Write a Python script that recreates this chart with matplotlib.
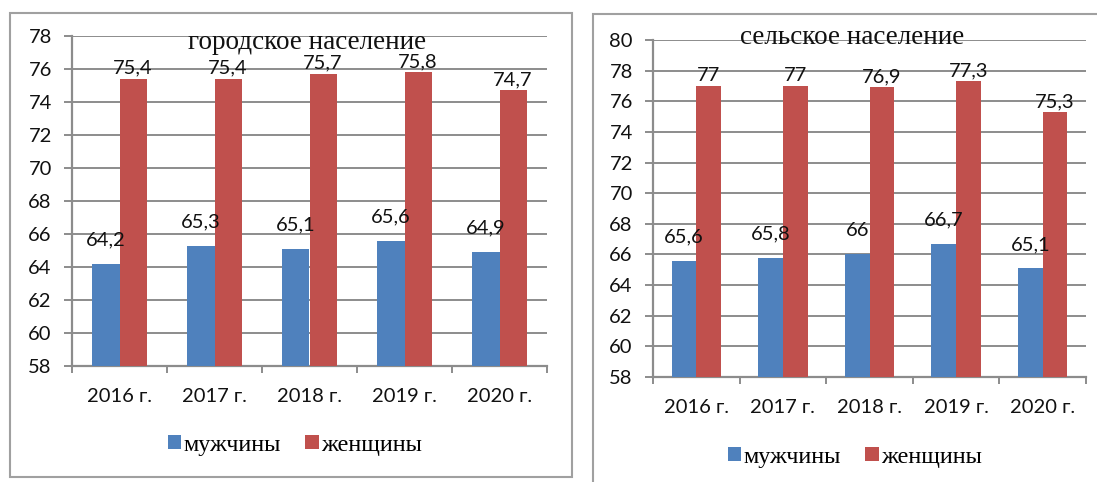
"""
Ожидаемая продолжительность жизни: городское и сельское население.
"""
import matplotlib
matplotlib.use("Agg")
import matplotlib.pyplot as plt
import numpy as np
from matplotlib.patches import Rectangle
from matplotlib.transforms import blended_transform_factory

plt.rcParams["font.family"] = ["Lato", "DejaVu Sans"]

years = ["2016 г.", "2017 г.", "2018 г.", "2019 г.", "2020 г."]
urban_men = [64.2, 65.3, 65.1, 65.6, 64.9]
urban_women = [75.4, 75.4, 75.7, 75.8, 74.7]
rural_men = [65.6, 65.8, 66, 66.7, 65.1]
rural_women = [77, 77, 76.9, 77.3, 75.3]
series_names = ["мужчины", "женщины"]

BLUE = "#4F81BD"
RED = "#C0504D"
GRID = "#8C8C8C"
TEXT = "#111111"
SERIF = ["Liberation Serif", "DejaVu Serif"]

W, H = 1097, 482


def fmt(v):
    s = f"{v:g}"
    return s.replace(".", ",")


def draw_panel(ax, men, women, ymax, title, title_pos, legend_pos):
    x = np.arange(len(years))
    w = 0.285
    b1 = ax.bar(x - w / 2, np.array(men) - 58, w, bottom=58, color=BLUE,
                label=series_names[0], zorder=3)
    b2 = ax.bar(x + w / 2, np.array(women) - 58, w, bottom=58, color=RED,
                label=series_names[1], zorder=3)

    for xi, v in zip(x - w / 2, men):
        ax.annotate(fmt(v), (xi, v), xytext=(0, 11), textcoords="offset points",
                    ha="center", va="bottom", fontsize=14.5, color=TEXT, zorder=4)
    for xi, v in zip(x + w / 2, women):
        ax.annotate(fmt(v), (xi, v), xytext=(0, 1.5), textcoords="offset points",
                    ha="center", va="bottom", fontsize=14.5, color=TEXT, zorder=4)

    ax.set_xlim(-0.5, len(years) - 0.5)
    ax.set_ylim(58, ymax)
    ax.set_yticks(np.arange(58, ymax + 1, 2))
    ax.yaxis.grid(True, color=GRID, linewidth=1.4, zorder=0)
    ax.set_axisbelow(True)

    ax.set_xticks(x)
    ax.set_xticklabels(years)
    ax.set_xticks(np.arange(-0.5, len(years)), minor=True)
    ax.tick_params(axis="x", which="major", length=0, pad=16, labelsize=14.5,
                   labelcolor=TEXT)
    ax.tick_params(axis="x", which="minor", length=5, width=1.4, color=GRID,
                   direction="out")
    ax.tick_params(axis="y", length=5.5, width=1.4, color=GRID, pad=9,
                   labelsize=14.5, labelcolor=TEXT)

    for side in ("top", "right"):
        ax.spines[side].set_visible(False)
    for side in ("left", "bottom"):
        ax.spines[side].set_color(GRID)
        ax.spines[side].set_linewidth(1.6)

    tr = blended_transform_factory(ax.transAxes, ax.transData)
    ax.text(title_pos[0], title_pos[1], title, transform=tr, ha="center",
            va="baseline", fontsize=19.5, family=SERIF, color=TEXT, zorder=5)

    ax.legend([b1, b2], series_names, loc="center",
              bbox_to_anchor=legend_pos, bbox_transform=ax.figure.transFigure,
              ncol=2, frameon=False, handlelength=0.55, handleheight=0.55,
              handletextpad=0.1, columnspacing=1.0,
              prop={"family": SERIF, "size": 17.5})


fig = plt.figure(figsize=(W / 100, H / 100), dpi=100, facecolor="white")

# рамки вокруг диаграмм
fig.patches.append(Rectangle((10 / W, 1 - 477 / H), 562 / W, 464 / H,
                             transform=fig.transFigure, fill=False,
                             edgecolor="#A0A0A0", linewidth=1.5))
fig.patches.append(Rectangle((593 / W, -0.1), 0.6, 1.1 - 14 / H,
                             transform=fig.transFigure, fill=False,
                             edgecolor="#A0A0A0", linewidth=1.5))

ax1 = fig.add_axes([72 / W, 1 - 366 / H, 475 / W, 330 / H])
ax2 = fig.add_axes([653 / W, 1 - 377 / H, 433 / W, 337 / H])

draw_panel(ax1, urban_men, urban_women, 78, "городское население",
           (0.495, 77.2), (295 / W, 1 - 445 / H))
draw_panel(ax2, rural_men, rural_women, 80, "сельское население",
           (0.46, 79.75), (855 / W, 1 - 457 / H))

fig.savefig("out.png", dpi=100, facecolor="white")
